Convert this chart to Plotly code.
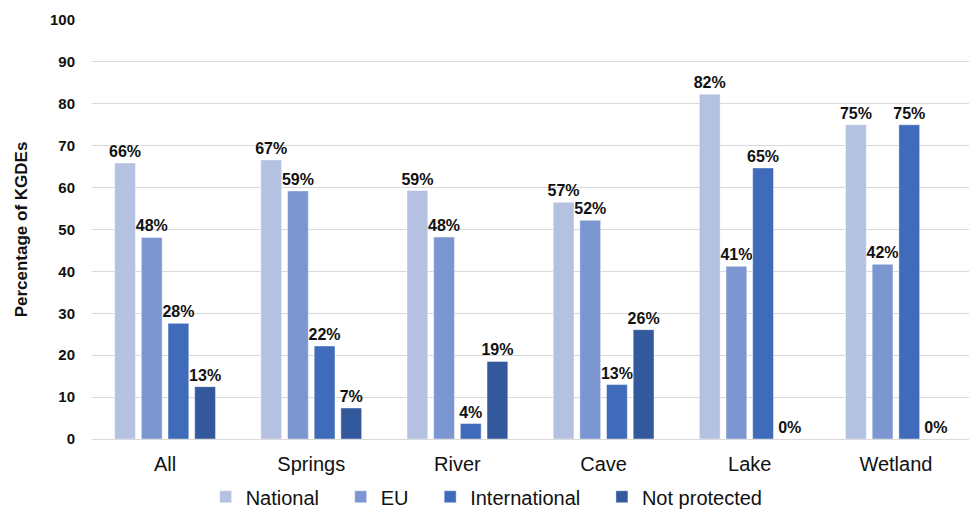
import plotly.graph_objects as go

# Share of KGDEs under each protection type, by ecosystem type (%)
categories = ["All", "Springs", "River", "Cave", "Lake", "Wetland"]
national = [65.9, 66.6, 59.3, 56.5, 82.3, 75.0]
eu = [48.1, 59.2, 48.2, 52.2, 41.2, 41.7]
international = [27.6, 22.2, 3.7, 13.0, 64.7, 75.0]
not_protected = [12.5, 7.4, 18.5, 26.1, 0.0, 0.0]

series_names = ["National", "EU", "International", "Not protected"]
series_values = [national, eu, international, not_protected]
series_colors = ["#B4C1E1", "#7C96D2", "#406BBA", "#33599C"]

y_ticks = list(range(0, 101, 10))

FONT = "Arial, Liberation Sans, sans-serif"
PAD = "\u00a0" * 3  # extra room between legend entries

fig = go.Figure()
for i, (name, vals, color) in enumerate(zip(series_names, series_values, series_colors)):
    label = name + (PAD if i < len(series_names) - 1 else "")
    fig.add_trace(go.Bar(
        name=label,
        x=categories,
        y=vals,
        marker=dict(color=color, line=dict(color="rgba(255,255,255,0.55)", width=0.8)),
        texttemplate="%{y:.0f}%",
        textposition="outside",
        constraintext="none",
        cliponaxis=False,
        textfont=dict(family=FONT, size=16, color="#111111", weight="bold"),
        hoverinfo="skip",
    ))

fig.update_layout(
    width=969,
    height=510,
    margin=dict(l=92, r=0, t=20, b=71, autoexpand=False),
    paper_bgcolor="white",
    plot_bgcolor="white",
    barmode="group",
    bargap=0.27,
    bargroupgap=0.22,
    font=dict(family=FONT, color="#111111"),
    showlegend=True,
    legend=dict(
        orientation="h",
        x=0.45,
        xanchor="center",
        yref="container",
        y=0.026,
        yanchor="middle",
        borderwidth=0,
        bgcolor="rgba(0,0,0,0)",
        font=dict(family=FONT, size=20, color="#111111"),
        traceorder="normal",
        itemclick=False,
        itemdoubleclick=False,
    ),
    xaxis=dict(
        type="category",
        showgrid=False,
        showline=False,
        ticks="",
        ticklabelstandoff=11,
        tickfont=dict(family=FONT, size=20, color="#111111"),
    ),
    yaxis=dict(
        range=[0, 100],
        tickvals=y_ticks,
        showgrid=True,
        gridcolor="#D9D9D9",
        gridwidth=1,
        zeroline=True,
        zerolinecolor="#D9D9D9",
        zerolinewidth=1,
        showline=False,
        ticks="",
        ticklabelstandoff=16,
        tickfont=dict(family=FONT, size=15, color="#111111", weight="bold"),
        title=dict(
            text="Percentage of KGDEs",
            font=dict(family=FONT, size=17, color="#111111", weight="bold"),
            standoff=18,
        ),
    ),
)

fig.write_html("out.html")
